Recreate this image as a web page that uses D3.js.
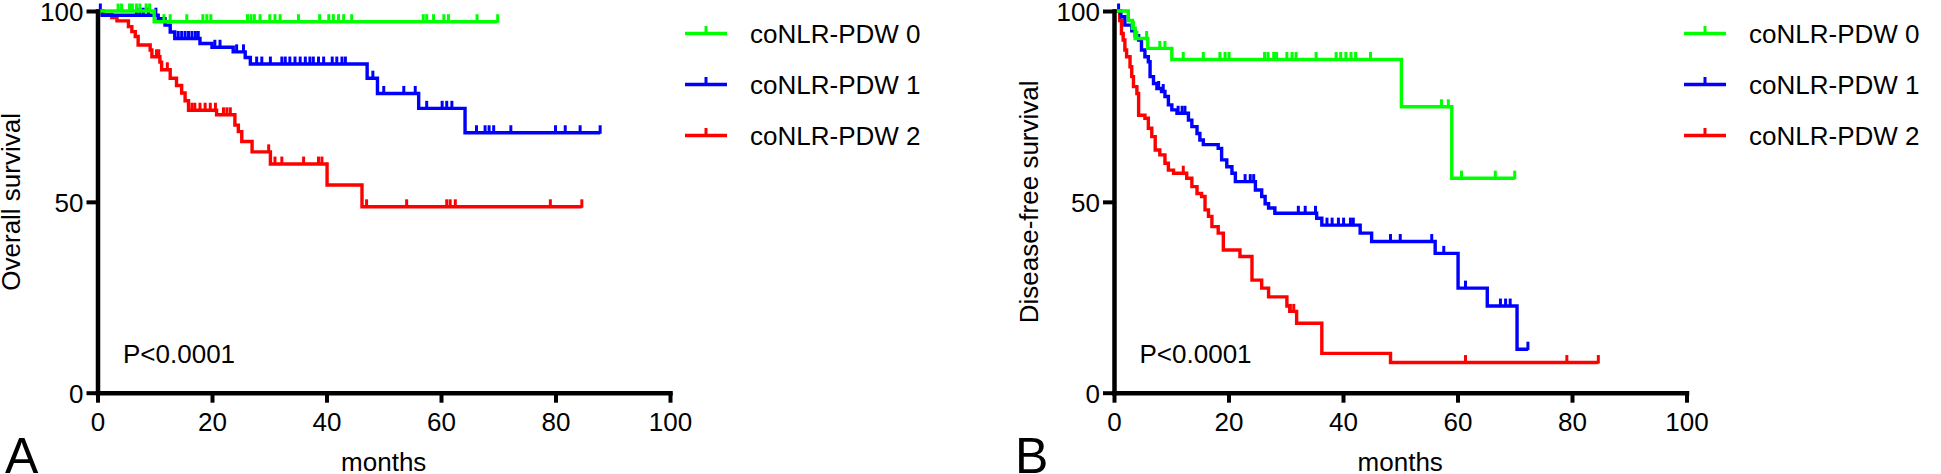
<!DOCTYPE html>
<html>
<head>
<meta charset="utf-8">
<script src="https://cdn.jsdelivr.net/npm/d3@7"></script>
<style>
  html, body { margin: 0; padding: 0; background: #fff; }
  svg text { font-family: "Liberation Sans", Arial, Helvetica, sans-serif; fill: #000; }
</style>
</head>
<body>
<svg id="chart" width="1941" height="474"></svg>
<script>
// ---------------- DATA ----------------
const groupNames = ["coNLR-PDW 0", "coNLR-PDW 1", "coNLR-PDW 2"];
const monthTicks = [0, 20, 40, 60, 80, 100];
const survivalTicks = [0, 50, 100];
const pValueText = "P<0.0001";

// Panel A: Overall survival  -- steps [month, survival %], censor months, last follow-up
const osSteps0 = [[0,100],[9.9,97.2]];
const osEnd0 = 69.9;
const osCens0 = [3.6,4.2,5.6,6.1,6.8,7.4,8.5,9.1,11.6,12.7,15.6,18.4,19.1,19.8,26.2,26.8,27.4,28.4,30.1,31.0,31.9,35.1,38.8,40.4,41.2,42.1,43.0,44.4,56.9,57.5,58.7,60.5,61.3,66.3,69.9];

const osSteps1 = [[0,100],[0.8,98.9],[10.6,98.0],[11.8,96.3],[12.7,94.5],[13.5,92.8],[17.9,91.5],[20.0,90.5],[23.7,89.3],[25.8,87.8],[26.7,86.1],[47.1,82.4],[48.9,78.4],[56.1,74.5],[64.2,68.1]];
const osEnd1 = 87.8;
const osCens1 = [0.5,6.8,7.4,8.0,8.9,10.2,14.1,14.7,15.3,15.9,16.5,17.1,17.6,20.5,21.4,24.3,25.5,27.8,28.7,30.2,32.2,32.8,33.6,34.5,35.4,36.3,37.1,37.7,38.6,39.5,41.0,41.8,42.7,43.3,48.1,50.0,53.5,55.5,57.5,60.2,61.0,61.9,66.2,67.7,68.4,69.2,72.2,80.0,81.7,84.3,87.8];

const osSteps2 = [[0,100],[1.0,99.1],[2.5,98.3],[3.4,97.4],[5.4,95.9],[6.0,94.6],[6.6,93.3],[7.1,91.1],[9.2,89.8],[9.5,88.0],[10.9,86.6],[11.2,84.6],[12.7,82.4],[13.8,80.5],[14.7,78.5],[15.3,76.5],[15.9,74.0],[20.8,72.8],[24.0,70.1],[24.6,68.4],[25.2,65.8],[27.0,63.1],[30.2,59.9],[40.1,54.4],[46.2,48.7]];
const osEnd2 = 84.6;
const osCens2 = [10.3,10.7,12.2,16.5,17.0,17.9,18.8,19.7,20.6,22.0,22.6,23.2,29.9,31.0,32.2,36.0,38.6,39.2,47.0,54.0,61.0,61.6,62.5,79.1,84.6];

// Panel B: Disease-free survival
const dfsSteps0 = [[0,100],[2.5,97.5],[3.2,95.5],[3.7,92.8],[5.9,90.2],[10.1,87.3],[50.2,74.9],[59.0,56.2]];
const dfsEnd0 = 70.0;
const dfsCens0 = [3.4,4.0,5.7,8.0,8.9,12.1,15.6,18.5,19.4,20.1,26.3,26.9,27.9,28.4,30.2,31.1,31.8,35.3,38.8,39.6,40.5,41.4,42.2,44.8,57.2,58.4,60.7,66.6,70.0];

const dfsSteps1 = [[0,100],[1.2,98.5],[1.9,96.3],[3.1,94.8],[3.7,93.5],[4.3,92.4],[4.8,89.8],[5.4,88.0],[6.0,86.7],[6.3,82.8],[6.9,81.0],[7.5,79.7],[8.3,78.9],[8.9,77.6],[9.5,75.4],[10.1,74.1],[11.0,73.2],[13.0,71.4],[13.6,69.7],[14.5,67.9],[15.0,66.2],[15.6,65.0],[18.2,64.0],[18.8,61.0],[19.7,59.2],[20.6,57.5],[21.2,55.3],[24.7,53.1],[25.8,51.4],[26.4,49.5],[27.0,48.4],[28.1,47.0],[35.4,45.7],[36.3,43.9],[43.0,41.8],[45.0,39.6],[56.1,36.5],[60.1,27.4],[65.2,22.7],[70.4,11.4]];
const dfsEnd1 = 72.3;
const dfsCens1 = [0.8,7.8,8.6,11.2,11.9,12.4,22.9,23.8,24.4,32.2,33.4,35.2,37.2,38.1,39.2,40.1,41.3,41.8,48.3,50.0,55.5,57.6,61.4,67.5,68.4,69.2,72.3];

const dfsSteps2 = [[0,100],[1.0,97.5],[1.3,94.1],[1.6,92.4],[1.9,89.8],[2.2,88.0],[2.8,85.4],[3.1,82.8],[3.4,80.2],[4.0,78.4],[4.3,72.7],[5.4,71.9],[6.0,69.3],[6.6,67.1],[7.2,63.6],[8.0,62.3],[8.9,60.1],[9.5,58.3],[10.4,57.5],[12.7,56.2],[13.6,54.0],[14.5,52.2],[15.3,51.4],[15.9,47.9],[16.5,46.2],[17.1,43.5],[18.2,41.8],[19.1,37.4],[22.0,35.7],[24.1,29.5],[25.8,27.4],[27.0,25.1],[30.2,22.7],[30.7,21.3],[31.9,18.2],[36.3,10.3],[48.3,7.9]];
const dfsEnd2 = 84.6;
const dfsCens2 = [12.1,30.8,31.4,61.4,79.1,84.6];

// ---------------- DRAWING ----------------
const colors = ["#00ff00", "#0000ff", "#ff0000"];
const svg = d3.select("#chart");
svg.append("rect").attr("width", 1941).attr("height", 474).attr("fill", "#fff");

const panels = [
  { x0: 97.5, yTitle: "Overall survival", letter: "A", letterX: 5, titleX: 20,
    legendX: 685, series: [[osSteps0, osEnd0, osCens0], [osSteps1, osEnd1, osCens1], [osSteps2, osEnd2, osCens2]] },
  { x0: 1114, yTitle: "Disease-free survival", letter: "B", letterX: 1015, titleX: 1038,
    legendX: 1684, series: [[dfsSteps0, dfsEnd0, dfsCens0], [dfsSteps1, dfsEnd1, dfsCens1], [dfsSteps2, dfsEnd2, dfsCens2]] }
];

const plotW = 572.5, yTop = 11, yBot = 392.7;
const fontSize = 26;

function survAt(steps, t) {
  let s = steps[0][1];
  for (const [tt, v] of steps) { if (tt <= t) s = v; }
  return s;
}

panels.forEach(p => {
  const x = d3.scaleLinear().domain([0, 100]).range([p.x0, p.x0 + plotW]);
  const y = d3.scaleLinear().domain([0, 100]).range([yBot, yTop]);
  const g = svg.append("g");

  // curves (red first, green last)
  [2, 1, 0].forEach(i => {
    const [steps, end, cens] = p.series[i];
    const pts = steps.concat([[end, steps[steps.length - 1][1]]]);
    const line = d3.line().x(d => x(d[0])).y(d => y(d[1])).curve(d3.curveStepAfter);
    g.append("path").attr("d", line(pts)).attr("fill", "none")
      .attr("stroke", colors[i]).attr("stroke-width", 3.4)
      .attr("stroke-linejoin", "miter");
    g.selectAll(null).data(cens).enter().append("line")
      .attr("x1", d => x(d)).attr("x2", d => x(d))
      .attr("y1", d => y(survAt(steps, d)) + 1)
      .attr("y2", d => y(survAt(steps, d)) - 7.5)
      .attr("stroke", colors[i]).attr("stroke-width", 3);
  });

  // axes
  const ax = g.append("g").attr("transform", `translate(0,${yBot})`)
    .call(d3.axisBottom(x).tickValues(monthTicks).tickSize(10).tickSizeOuter(0).tickPadding(10));
  const ay = g.append("g").attr("transform", `translate(${p.x0},0)`)
    .call(d3.axisLeft(y).tickValues(survivalTicks).tickSize(11).tickSizeOuter(0).tickPadding(3));
  [ax, ay].forEach(a => {
    a.select(".domain").attr("stroke", "#000").attr("stroke-width", 4.5).attr("stroke-linecap", "square");
    a.selectAll(".tick line").attr("stroke", "#000").attr("stroke-width", 4);
    a.selectAll(".tick text").attr("font-size", fontSize)
      .attr("font-family", '"Liberation Sans", Arial, sans-serif').attr("fill", "#000");
  });
  ay.selectAll(".tick text").attr("dy", "0.36em");

  // y title
  g.append("text")
    .attr("transform", `translate(${p.titleX},${(yTop + yBot) / 2}) rotate(-90)`)
    .attr("text-anchor", "middle").attr("font-size", fontSize).text(p.yTitle);
  // x title
  g.append("text").attr("x", x(50)).attr("y", 471).attr("text-anchor", "middle")
    .attr("font-size", fontSize).text("months");
  // panel letter
  g.append("text").attr("x", p.letterX).attr("y", 473).attr("font-size", 50).text(p.letter);
  // p value
  g.append("text").attr("x", p.x0 + 25.5).attr("y", 363).attr("font-size", fontSize).text(pValueText);

  // legend
  groupNames.forEach((name, i) => {
    const ly = 33.5 + i * 51;
    g.append("line").attr("x1", p.legendX).attr("x2", p.legendX + 42)
      .attr("y1", ly).attr("y2", ly).attr("stroke", colors[i]).attr("stroke-width", 3.4);
    g.append("line").attr("x1", p.legendX + 21).attr("x2", p.legendX + 21)
      .attr("y1", ly).attr("y2", ly - 7.5).attr("stroke", colors[i]).attr("stroke-width", 3);
    g.append("text").attr("x", p.legendX + 65).attr("y", ly + 9.5)
      .attr("font-size", fontSize).text(name);
  });
});
</script>
</body>
</html>
